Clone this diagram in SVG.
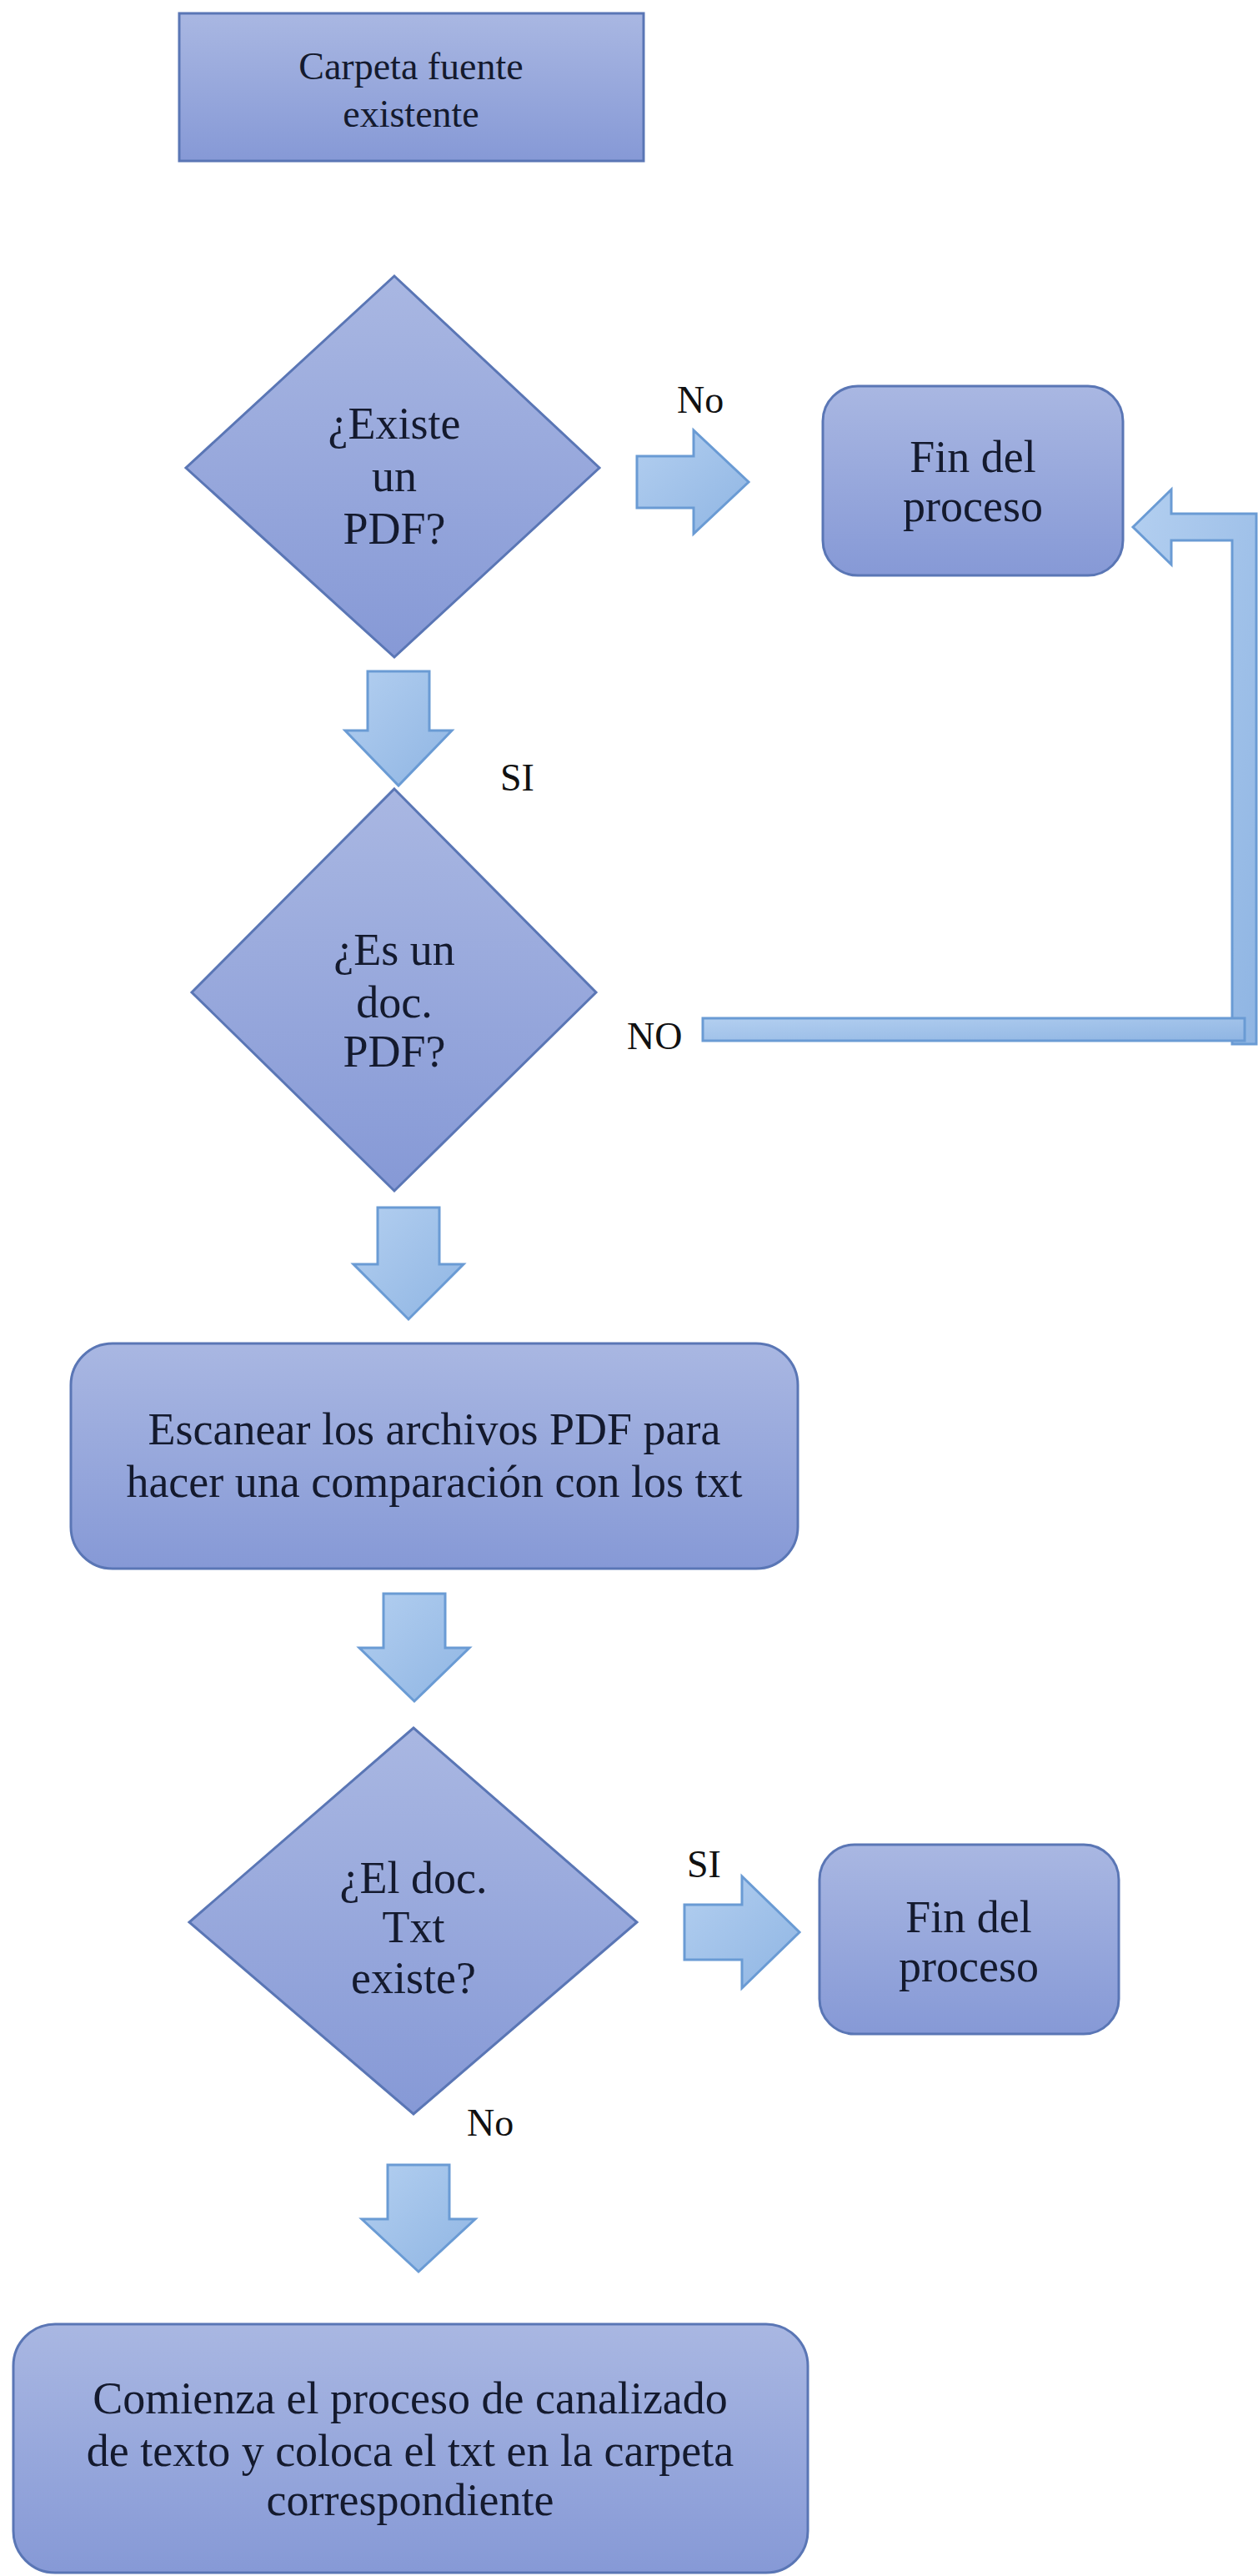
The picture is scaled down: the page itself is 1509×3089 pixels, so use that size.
<svg xmlns="http://www.w3.org/2000/svg" width="1509" height="3089" viewBox="0 0 1509 3089">
<defs>
<linearGradient id="gNode" x1="0" y1="0" x2="0" y2="1">
<stop offset="0" stop-color="#a9b7e2"/>
<stop offset="1" stop-color="#8699d6"/>
</linearGradient>
<linearGradient id="gArrow" x1="0" y1="0" x2="1" y2="1">
<stop offset="0" stop-color="#b3cff0"/>
<stop offset="1" stop-color="#8fb5e3"/>
</linearGradient>
<style>
.node{fill:url(#gNode);stroke:#5a76b5;stroke-width:3}
.arr{fill:url(#gArrow);stroke:#6a9bd4;stroke-width:3;stroke-linejoin:miter}
.t{font-family:"Liberation Serif","Times New Roman",serif;font-size:54px;fill:#141a2e;text-anchor:middle}
.lbl{font-family:"Liberation Serif","Times New Roman",serif;font-size:46px;fill:#111}
</style>
</defs>
<rect width="1509" height="3089" fill="#ffffff"/>

<g id="connectors">
<polygon class="arr" points="441,805 515,805 515,876 542,876 478,942 414,876 441,876"/>
<polygon class="arr" points="453,1448 527,1448 527,1516 556,1516 490,1582 424,1516 453,1516"/>
<polygon class="arr" points="460,1911 534,1911 534,1976 563,1976 497,2040 431,1976 460,1976"/>
<polygon class="arr" points="465,2596 539,2596 539,2661 570,2661 502,2724 434,2661 465,2661"/>
<polygon class="arr" points="764,547 832,547 832,516 898,578 832,640 832,609 764,609"/>
<polygon class="arr" points="821,2284 890,2284 890,2250 959,2317 890,2384 890,2350 821,2350"/>
<polygon class="arr" points="1359,632 1405,587 1405,616 1507,616 1507,1252 1478,1252 1478,648 1405,648 1405,677"/>
<rect class="arr" x="843" y="1221" width="650" height="27"/>
<text class="lbl" x="812" y="495">No</text>
<text class="lbl" x="600" y="948">SI</text>
<text class="lbl" x="752" y="1258">NO</text>
<text class="lbl" x="824" y="2251">SI</text>
<text class="lbl" x="560" y="2561">No</text>
</g>

<g id="n-carpeta">
<rect class="node" x="215" y="16" width="557" height="177"/>
<text class="t" x="493" y="95" style="font-size:46px">Carpeta fuente</text>
<text class="t" x="493" y="152" style="font-size:46px">existente</text>
</g>

<g id="n-existe-pdf">
<polygon class="node" points="473,331 719,561 473,788 223,561"/>
<text class="t" x="473" y="526">¿Existe</text>
<text class="t" x="473" y="589">un</text>
<text class="t" x="473" y="652">PDF?</text>
</g>

<g id="n-fin1">
<rect class="node" x="987" y="463" width="360" height="227" rx="42" ry="42"/>
<text class="t" x="1167" y="566">Fin del</text>
<text class="t" x="1167" y="625">proceso</text>
</g>

<g id="n-es-pdf">
<polygon class="node" points="473,946 715,1190 473,1428 230,1190"/>
<text class="t" x="473" y="1157">¿Es un</text>
<text class="t" x="473" y="1220">doc.</text>
<text class="t" x="473" y="1279">PDF?</text>
</g>

<g id="n-escanear">
<rect class="node" x="85" y="1611" width="872" height="270" rx="50" ry="50"/>
<text class="t" x="521" y="1732">Escanear los archivos PDF para</text>
<text class="t" x="521" y="1795">hacer una comparación con los txt</text>
</g>

<g id="n-txt-existe">
<polygon class="node" points="496,2072 764,2305 496,2535 227,2305"/>
<text class="t" x="496" y="2270">¿El doc.</text>
<text class="t" x="496" y="2329">Txt</text>
<text class="t" x="496" y="2390">existe?</text>
</g>

<g id="n-fin2">
<rect class="node" x="983" y="2212" width="359" height="227" rx="42" ry="42"/>
<text class="t" x="1162" y="2317">Fin del</text>
<text class="t" x="1162" y="2376">proceso</text>
</g>

<g id="n-comienza">
<rect class="node" x="16" y="2787" width="953" height="298" rx="50" ry="50"/>
<text class="t" x="492" y="2894">Comienza el proceso de canalizado</text>
<text class="t" x="492" y="2957">de texto y coloca el txt en la carpeta</text>
<text class="t" x="492" y="3016">correspondiente</text>
</g>
</svg>
